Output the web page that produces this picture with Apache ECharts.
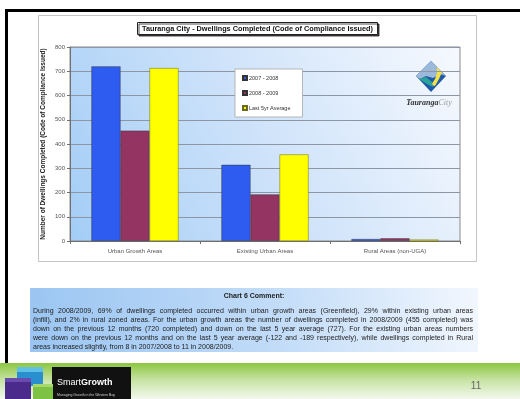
<!DOCTYPE html>
<html>
<head>
<meta charset="utf-8">
<script src="https://cdn.jsdelivr.net/npm/echarts@6/dist/echarts.min.js"></script>
<style>
  html, body { margin: 0; padding: 0; background: #fff; }
  #chart { width: 520px; height: 399px; }
</style>
</head>
<body>
<div id="chart"></div>
<script>
// Dwellings completed by area type
const categories = ['Urban Growth Areas', 'Existing Urban Areas', 'Rural Areas (non-UGA)'];
const seriesNames = ['2007 - 2008', '2008 - 2009', 'Last 5yr Average'];
const values2007 = [720, 314, 8];
const values2008 = [455, 192, 11];
const valuesAvg = [713, 357, 6];
const yTicks = [0, 100, 200, 300, 400, 500, 600, 700, 800];

const chartTitle = 'Tauranga City - Dwellings Completed (Code of Compliance Issued)';
const yAxisTitle = 'Number of Dwellings Completed (Code of Compliance Issued)';
const commentTitle = 'Chart 6 Comment:';
const commentLines = [
  'During 2008/2009, 69% of dwellings completed occurred within urban growth areas (Greenfield), 29% within existing urban areas',
  '(infill), and 2% in rural zoned areas.  For the urban growth areas the number of dwellings completed in 2008/2009 (455 completed) was',
  'down on the previous 12 months (720 completed) and down on the last 5 year average (727).  For the existing urban areas numbers',
  'were down on the previous 12 months and on the last 5 year average (-122 and -189 respectively), while dwellings completed in Rural',
  'areas increased slightly, from 8 in 2007/2008 to 11 in 2008/2009.'
];
const pageNumber = '11';

const FONT = '"Liberation Sans", Arial, sans-serif';
const colors = ['#2f5cf0', '#943463', '#ffff00'];

const chart = echarts.init(document.getElementById('chart'), null, { renderer: 'canvas' });

// Justified paragraph: each word placed so lines fill the box width
function paragraph(lines, x0, width, y0, lineH, size) {
  const ctx = document.createElement('canvas').getContext('2d');
  ctx.font = size + 'px ' + FONT;
  const out = [];
  lines.forEach((line, i) => {
    const words = line.split(/\s+/);
    const widths = words.map(w => ctx.measureText(w).width);
    const total = widths.reduce((a, b) => a + b, 0);
    const last = i === lines.length - 1;
    const gap = last ? ctx.measureText(' ').width : (width - total) / (words.length - 1);
    let x = x0;
    words.forEach((w, k) => {
      out.push({
        type: 'text', x: x, y: y0 + i * lineH, silent: true,
        style: { text: w, fontSize: size, fontFamily: FONT, fill: '#222', textVerticalAlign: 'middle' }
      });
      x += widths[k] + gap;
    });
  });
  return out;
}

const graphics = [
  // slide frame
  { type: 'rect', shape: { x: 5, y: 9, width: 515, height: 3 }, style: { fill: '#000' }, z: -5 },
  { type: 'rect', shape: { x: 5, y: 9, width: 3, height: 354 }, style: { fill: '#000' }, z: -5 },
  // chart box
  { type: 'rect', shape: { x: 38.5, y: 15.5, width: 438, height: 246 }, style: { fill: '#fff', stroke: '#c4c4c4', lineWidth: 1 }, z: -10 },
  // comment box
  { type: 'rect', shape: { x: 30, y: 288, width: 448, height: 64 },
    style: { fill: new echarts.graphic.LinearGradient(0, 1, 1, 0, [
      { offset: 0, color: '#9ac5f2' }, { offset: 0.55, color: '#c2dcf8' }, { offset: 1, color: '#f2f7fe' }]) }, z: -10 },
  { type: 'text', x: 254, y: 296, style: { text: commentTitle, fontSize: 7, fontWeight: 'bold', fontFamily: FONT, fill: '#222', textAlign: 'center', textVerticalAlign: 'middle' } },
  // footer band
  { type: 'rect', shape: { x: 0, y: 363, width: 520, height: 36 },
    style: { fill: new echarts.graphic.LinearGradient(0, 0, 0, 1, [
      { offset: 0, color: '#8cc63e' }, { offset: 0.45, color: '#c5e2a0' }, { offset: 1, color: '#f3f8ee' }]) }, z: -10 },
  { type: 'text', x: 476, y: 386, style: { text: pageNumber, fontSize: 10, fontFamily: FONT, fill: '#666', textAlign: 'center', textVerticalAlign: 'middle' } },
  // SmartGrowth logo
  { type: 'rect', shape: { x: 52, y: 367, width: 79, height: 32 }, style: { fill: '#111' } },
  { type: 'rect', shape: { x: 17, y: 367, width: 26, height: 19 }, style: { fill: '#2a8fcf' } },
  { type: 'rect', shape: { x: 17, y: 367, width: 26, height: 5 }, style: { fill: '#5fc0e6' } },
  { type: 'rect', shape: { x: 5, y: 378, width: 26, height: 21 }, style: { fill: '#4a2b8c' } },
  { type: 'rect', shape: { x: 5, y: 378, width: 26, height: 4 }, style: { fill: '#6a4bb0' } },
  { type: 'rect', shape: { x: 33, y: 384, width: 20, height: 15 }, style: { fill: '#7dc243' } },
  { type: 'rect', shape: { x: 33, y: 384, width: 20, height: 3 }, style: { fill: '#a6d96a' } },
  { type: 'text', x: 57, y: 383, style: { text: '{a|Smart}{b|Growth}', fontFamily: FONT, textVerticalAlign: 'middle',
      rich: { a: { fontSize: 9, fill: '#fff', fontFamily: FONT }, b: { fontSize: 9, fontWeight: 'bold', fill: '#fff', fontFamily: FONT } } } },
  { type: 'text', x: 57, y: 395, style: { text: 'Managing Growth in the Western Bay', fontSize: 3.5, fontFamily: FONT, fill: '#ccc', textVerticalAlign: 'middle' } },
  // Tauranga City logo
  { type: 'polygon', shape: { points: [[431, 61], [446, 76], [431, 92], [416, 76]] }, style: { fill: '#1f5aa8' } },
  { type: 'polygon', shape: { points: [[431, 61], [446, 76], [440, 74], [433, 78], [426, 76], [420, 79], [416, 76]] }, style: { fill: '#9db9d9' } },
  { type: 'polygon', shape: { points: [[437, 67], [442, 72], [439, 79], [435, 86], [431, 85], [435, 79], [437, 73]] }, style: { fill: '#f3e04a' } },
  { type: 'polygon', shape: { points: [[419, 79], [426, 77], [432, 82], [433, 87], [427, 84]] }, style: { fill: '#2aa39a' } },
  { type: 'text', x: 429, y: 103, style: { text: '{a|Tauranga}{b|City}', textAlign: 'center', textVerticalAlign: 'middle',
      rich: { a: { fontSize: 8, fontStyle: 'italic', fontWeight: 'bold', fontFamily: '"Liberation Serif", serif', fill: '#333' },
              b: { fontSize: 8, fontStyle: 'italic', fontFamily: '"Liberation Serif", serif', fill: '#999' } } } }
].concat(paragraph(commentLines, 33, 440, 311.5, 9, 7));

const option = {
  animation: false,
  backgroundColor: '#fff',
  textStyle: { fontFamily: FONT },
  title: {
    text: chartTitle, left: 137, top: 22,
    padding: [3, 5, 3, 5],
    borderColor: '#222', borderWidth: 1, backgroundColor: '#fff',
    shadowColor: 'rgba(0,0,0,0.7)', shadowOffsetX: 1.5, shadowOffsetY: 1.5, shadowBlur: 0,
    textStyle: { fontSize: 7.3, fontWeight: 'bold', color: '#111', fontFamily: FONT }
  },
  legend: {
    data: seriesNames, orient: 'vertical', left: 235, top: 69,
    padding: [6, 12, 6, 7], itemGap: 9, itemWidth: 4, itemHeight: 4, icon: 'rect',
    backgroundColor: '#fff', borderColor: '#b5b5b5', borderWidth: 1,
    textStyle: { fontSize: 5.5, color: '#333', padding: [0, 0, 0, -3], fontFamily: FONT }
  },
  grid: {
    left: 70, right: 60, top: 47, bottom: 158, show: true,
    borderColor: '#8a8a8a', borderWidth: 1,
    backgroundColor: new echarts.graphic.LinearGradient(0, 1, 1, 0, [
      { offset: 0, color: '#a3cdf6' }, { offset: 0.5, color: '#cfe3fa' }, { offset: 1, color: '#f6f9fe' }])
  },
  xAxis: {
    type: 'category', data: categories,
    axisLine: { lineStyle: { color: '#707070' } },
    axisTick: { show: true, length: 3, lineStyle: { color: '#707070' } },
    axisLabel: { fontSize: 6, color: '#555', margin: 7 }
  },
  yAxis: {
    type: 'value', min: yTicks[0], max: yTicks[yTicks.length - 1], interval: 100,
    name: yAxisTitle, nameLocation: 'middle', nameGap: 23, nameMoveOverlap: false,
    nameTextStyle: { fontSize: 6.5, fontWeight: 'bold', color: '#222' },
    axisLine: { show: true, lineStyle: { color: '#707070' } },
    axisTick: { show: true, length: 3, lineStyle: { color: '#707070' } },
    axisLabel: { fontSize: 6, color: '#555', margin: 5 },
    splitLine: { lineStyle: { color: '#8c96a4', width: 1 } }
  },
  series: [
    { name: seriesNames[0], type: 'bar', data: values2007, barGap: '0%', barCategoryGap: '33%',
      itemStyle: { color: colors[0], borderColor: '#333', borderWidth: 0.5 } },
    { name: seriesNames[1], type: 'bar', data: values2008, barGap: '0%', barCategoryGap: '33%',
      itemStyle: { color: colors[1], borderColor: '#333', borderWidth: 0.5 } },
    { name: seriesNames[2], type: 'bar', data: valuesAvg, barGap: '0%', barCategoryGap: '33%',
      itemStyle: { color: colors[2], borderColor: '#6b6b20', borderWidth: 0.5 } }
  ],
  graphic: graphics
};

chart.setOption(option);
</script>
</body>
</html>
